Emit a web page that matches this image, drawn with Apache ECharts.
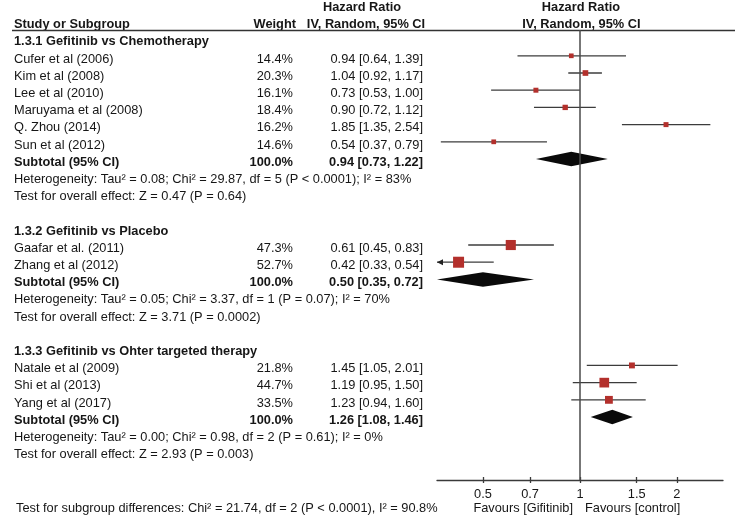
<!DOCTYPE html>
<html>
<head>
<meta charset="utf-8">
<script src="https://cdn.jsdelivr.net/npm/echarts@6/dist/echarts.min.js"></script>
<style>
html,body{margin:0;padding:0;background:#fff;}
#chart{width:738px;height:520px;}
</style>
</head>
<body>
<div id="chart"></div>
<script>
// ---------------- DATA ----------------
const groupTitles = ['1.3.1 Gefitinib vs Chemotherapy', '1.3.2 Gefitinib vs Placebo', '1.3.3 Gefitinib vs Ohter targeted therapy'];
const studyNames = ['Cufer et al (2006)', 'Kim et al (2008)', 'Lee et al (2010)', 'Maruyama et al (2008)', 'Q. Zhou (2014)', 'Sun et al (2012)',
                    'Gaafar et al. (2011)', 'Zhang et al (2012)',
                    'Natale et al (2009)', 'Shi et al (2013)', 'Yang et al (2017)'];
const studyGroup = [0, 0, 0, 0, 0, 0, 1, 1, 2, 2, 2];
const weights = [14.4, 20.3, 16.1, 18.4, 16.2, 14.6, 47.3, 52.7, 21.8, 44.7, 33.5];
const hr      = [0.94, 1.04, 0.73, 0.90, 1.85, 0.54, 0.61, 0.42, 1.45, 1.19, 1.23];
const ciLow   = [0.64, 0.92, 0.53, 0.72, 1.35, 0.37, 0.45, 0.33, 1.05, 0.95, 0.94];
const ciHigh  = [1.39, 1.17, 1.00, 1.12, 2.54, 0.79, 0.83, 0.54, 2.01, 1.50, 1.60];
const subtotalWeight = [100.0, 100.0, 100.0];
const subtotalHR   = [0.94, 0.50, 1.26];
const subtotalLow  = [0.73, 0.35, 1.08];
const subtotalHigh = [1.22, 0.72, 1.46];
const heterogeneity = [
  'Heterogeneity: Tau² = 0.08; Chi² = 29.87, df = 5 (P < 0.0001); I² = 83%',
  'Heterogeneity: Tau² = 0.05; Chi² = 3.37, df = 1 (P = 0.07); I² = 70%',
  'Heterogeneity: Tau² = 0.00; Chi² = 0.98, df = 2 (P = 0.61); I² = 0%'
];
const overallEffect = [
  'Test for overall effect: Z = 0.47 (P = 0.64)',
  'Test for overall effect: Z = 3.71 (P = 0.0002)',
  'Test for overall effect: Z = 2.93 (P = 0.003)'
];
const subgroupTest = 'Test for subgroup differences: Chi² = 21.74, df = 2 (P < 0.0001), I² = 90.8%';
const xTicks = [0.5, 0.7, 1, 1.5, 2];
const favourLeft = 'Favours [Gifitinib]';
const favourRight = 'Favours [control]';

// ---------------- LAYOUT ----------------
const X_MIN = 0.36, X_MAX = 2.78;
const ROW_MAX = 26.16;
const FONT = '"Liberation Sans", Arial, Helvetica, sans-serif';
const FS = 12.8;
const TXT = '#161616';
const BOX = '#b3302c';
const AXC = '#3a3a3a';

// build rows
const rows = [];
let r = 0.5;
const studyRows = [], subtotalRows = [];
for (let g = 0; g < groupTitles.length; g++) {
  rows.push({type: 'heading', text: groupTitles[g], r: r}); r += 1;
  for (let i = 0; i < studyNames.length; i++) {
    if (studyGroup[i] !== g) continue;
    studyRows.push({i: i, r: r});
    rows.push({type: 'study', i: i, r: r}); r += 1;
  }
  subtotalRows.push({g: g, r: r});
  rows.push({type: 'subtotal', g: g, r: r}); r += 1;
  rows.push({type: 'text', text: heterogeneity[g], r: r}); r += 1;
  rows.push({type: 'text', text: overallEffect[g], r: r}); r += 1;
  r += 1;
}

const chart = echarts.init(document.getElementById('chart'), null, {renderer: 'canvas'});

const axisCommon = {
  type: 'log', logBase: 10, min: X_MIN, max: X_MAX,
  splitLine: {show: false}, minorTick: {show: false}
};

chart.setOption({
  animation: false,
  backgroundColor: '#fff',
  grid: {left: 437, right: 15, top: 30, bottom: 40, containLabel: false},
  xAxis: [
    Object.assign({}, axisCommon, {
      position: 'bottom',
      axisLine: {show: true, onZero: false, lineStyle: {color: AXC, width: 1.3}},
      axisTick: {show: true, inside: false, length: 3, customValues: xTicks, lineStyle: {color: AXC, width: 1.3}},
      axisLabel: {show: true, customValues: xTicks, margin: 8, color: TXT, fontSize: FS, fontFamily: FONT,
                  formatter: v => String(+v.toFixed(2))}
    }),
    Object.assign({}, axisCommon, {
      position: 'top',
      offset: -450,
      axisLine: {show: false, onZero: false},
      axisTick: {show: true, inside: false, length: 3, customValues: xTicks, lineStyle: {color: AXC, width: 1.3}},
      axisLabel: {show: false}
    })
  ],
  yAxis: {type: 'value', min: 0, max: ROW_MAX, inverse: true, show: false},
  series: [
    {
      type: 'custom',
      name: 'studies',
      xAxisIndex: 0,
      clip: false,
      data: studyRows.map(s => [hr[s.i], s.r, ciLow[s.i], ciHigh[s.i], weights[s.i]]),
      renderItem: function (params, api) {
        const y = api.value(1);
        const c = api.coord([api.value(0), y]);
        const lo = api.value(2), hi = api.value(3);
        const lp = api.coord([Math.max(lo, X_MIN), y]);
        const hp = api.coord([Math.min(hi, X_MAX), y]);
        const size = 2.33 + 0.1645 * api.value(4);
        const children = [
          {type: 'line', shape: {x1: lp[0], y1: lp[1], x2: hp[0], y2: hp[1]},
           style: {stroke: '#3c3c3c', lineWidth: 1.3}},
          {type: 'rect', shape: {x: c[0] - size / 2, y: c[1] - size / 2, width: size, height: size},
           style: {fill: BOX}}
        ];
        if (lo < X_MIN) {
          children.push({type: 'polygon', shape: {points: [[lp[0], lp[1]], [lp[0] + 6, lp[1] - 3], [lp[0] + 6, lp[1] + 3]]},
                         style: {fill: '#222'}});
        }
        if (hi > X_MAX) {
          children.push({type: 'polygon', shape: {points: [[hp[0], hp[1]], [hp[0] - 6, hp[1] - 3], [hp[0] - 6, hp[1] + 3]]},
                         style: {fill: '#222'}});
        }
        return {type: 'group', children: children};
      },
      markLine: {
        silent: true, symbol: 'none', label: {show: false},
        lineStyle: {color: '#4a4a4a', width: 1.5, type: 'solid'},
        data: [{xAxis: 1}]
      }
    },
    {
      type: 'custom',
      name: 'subtotals',
      xAxisIndex: 0,
      clip: false,
      data: subtotalRows.map(s => [subtotalHR[s.g], s.r, subtotalLow[s.g], subtotalHigh[s.g]]),
      renderItem: function (params, api) {
        const y = api.value(1);
        const c = api.coord([api.value(0), y]);
        const lp = api.coord([Math.max(api.value(2), X_MIN), y]);
        const hp = api.coord([Math.min(api.value(3), X_MAX), y]);
        const hh = 7.3;
        return {type: 'polygon', shape: {points: [[lp[0], c[1]], [c[0], c[1] - hh], [hp[0], c[1]], [c[0], c[1] + hh]]},
                style: {fill: '#0a0a0a'}};
      }
    }
  ]
});

// ---------------- TEXT COLUMNS ----------------
const yOf = rr => chart.convertToPixel({yAxisIndex: 0}, rr) + 3.3;
const xOne = chart.convertToPixel({xAxisIndex: 0}, 1);
const COL_NAME = 14, COL_WEIGHT = 293, COL_CI = 423;
const g = [];
function txt(text, x, y, align, bold) {
  g.push({type: 'text', x: x, y: y, silent: true,
          style: {text: text, x: 0, y: 0, align: align || 'left', verticalAlign: 'middle',
                  fill: TXT, font: (bold ? 'bold ' : '') + FS + 'px ' + FONT}});
}
const fmtCI = (h, l, u) => h.toFixed(2) + ' [' + l.toFixed(2) + ', ' + u.toFixed(2) + ']';

// header
txt('Hazard Ratio', 362, yOf(-1.5), 'center', true);
txt('Study or Subgroup', COL_NAME, yOf(-0.5), 'left', true);
txt('Weight', 296, yOf(-0.5), 'right', true);
txt('IV, Random, 95% CI', 366, yOf(-0.5), 'center', true);
txt('Hazard Ratio', xOne + 1, yOf(-1.5), 'center', true);
txt('IV, Random, 95% CI', xOne + 1.5, yOf(-0.5), 'center', true);
g.push({type: 'line', silent: true, shape: {x1: 12, y1: 30.5, x2: 735, y2: 30.5},
        style: {stroke: '#333', lineWidth: 1.4}});

rows.forEach(row => {
  const y = yOf(row.r);
  if (row.type === 'heading') txt(row.text, COL_NAME, y, 'left', true);
  else if (row.type === 'text') txt(row.text, COL_NAME, y, 'left', false);
  else if (row.type === 'study') {
    txt(studyNames[row.i], COL_NAME, y, 'left', false);
    txt(weights[row.i].toFixed(1) + '%', COL_WEIGHT, y, 'right', false);
    txt(fmtCI(hr[row.i], ciLow[row.i], ciHigh[row.i]), COL_CI, y, 'right', false);
  } else if (row.type === 'subtotal') {
    txt('Subtotal (95% CI)', COL_NAME, y, 'left', true);
    txt(subtotalWeight[row.g].toFixed(1) + '%', COL_WEIGHT, y, 'right', true);
    txt(fmtCI(subtotalHR[row.g], subtotalLow[row.g], subtotalHigh[row.g]), COL_CI, y, 'right', true);
  }
});

txt(subgroupTest, 16, 508, 'left', false);
txt(favourLeft, xOne - 7, 508, 'right', false);
txt(favourRight, xOne + 5, 508, 'left', false);

chart.setOption({graphic: g});
</script>
</body>
</html>
